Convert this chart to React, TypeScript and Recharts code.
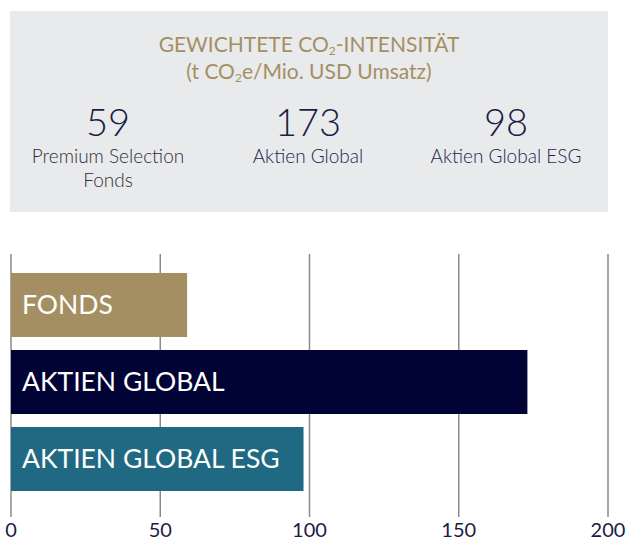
import { BarChart, Bar, XAxis, YAxis, CartesianGrid, Cell, LabelList } from "recharts";

const categories = ["FONDS", "AKTIEN GLOBAL", "AKTIEN GLOBAL ESG"];
const intensity = [59, 173, 98];
const barColors = ["#A48F62", "#000333", "#1F6A82"];
const kpiLabels = ["Premium Selection\nFonds", "Aktien Global", "Aktien Global ESG"];
const xTicks = [0, 50, 100, 150, 200];

const FONT = "Lato, 'Open Sans', sans-serif";

export default function App() {
  const data = categories.map((name, i) => ({ name, value: intensity[i] }));
  const sub = { fontSize: 12, verticalAlign: -3, lineHeight: 0 };

  return (
    <div style={{ position: "absolute", left: 0, top: 0, width: 626, height: 548, fontFamily: FONT, background: "#fff" }}>
      {/* grey header box with KPIs */}
      <div
        style={{
          position: "absolute",
          left: 10,
          top: 11,
          width: 598,
          height: 201,
          background: "#E9EAEC",
        }}
      >
        <div style={{ position: "absolute", top: 19, width: "100%", textAlign: "center", color: "#A48F62", fontSize: 21, lineHeight: "27px" }}>
          <div>
            GEWICHTETE CO<sub style={sub}>2</sub>-INTENSITÄT
          </div>
          <div>
            (t CO<sub style={sub}>2</sub>e/Mio. USD Umsatz)
          </div>
        </div>
        {intensity.map((v, i) => (
          <div
            key={i}
            style={{
              position: "absolute",
              top: 87,
              left: [98, 298, 496][i] - 110,
              width: 220,
              textAlign: "center",
            }}
          >
            <div style={{ fontSize: 38, lineHeight: "46px", color: "#1B1D45", fontWeight: 300 }}>{v}</div>
            <div
              style={{
                fontSize: 19,
                lineHeight: "24px",
                fontWeight: 300,
                color: i === 0 ? "#2E2E3A" : "#1B1F4C",
                whiteSpace: "pre-line",
              }}
            >
              {kpiLabels[i]}
            </div>
          </div>
        ))}
      </div>

      <div style={{ position: "absolute", left: 0, top: 240 }}>
        <BarChart
          width={626}
          height={308}
          data={data}
          layout="vertical"
          margin={{ top: 14, right: 18, bottom: 0, left: 11 }}
        >
          <CartesianGrid horizontal={false} stroke="#8A8A8A" strokeWidth={1.5} />
          <XAxis
            type="number"
            domain={[0, 200]}
            ticks={xTicks}
            axisLine={false}
            tickLine={false}
            tickSize={0}
            tickMargin={6}
            height={31}
            interval={0}
            tick={{ fill: "#1B1D45", fontSize: 20, fontFamily: FONT }}
          />
          <YAxis type="category" dataKey="name" hide width={0} padding={{ top: 12, bottom: 20 }} />
          <Bar dataKey="value" barSize={64} isAnimationActive={false}>
            {data.map((d, i) => (
              <Cell key={d.name} fill={barColors[i]} />
            ))}
            <LabelList
              dataKey="name"
              position="insideLeft"
              offset={11}
              fill="#FFFFFF"
              style={{ fontSize: 26.5, fontFamily: FONT }}
            />
          </Bar>
        </BarChart>
      </div>
    </div>
  );
}
